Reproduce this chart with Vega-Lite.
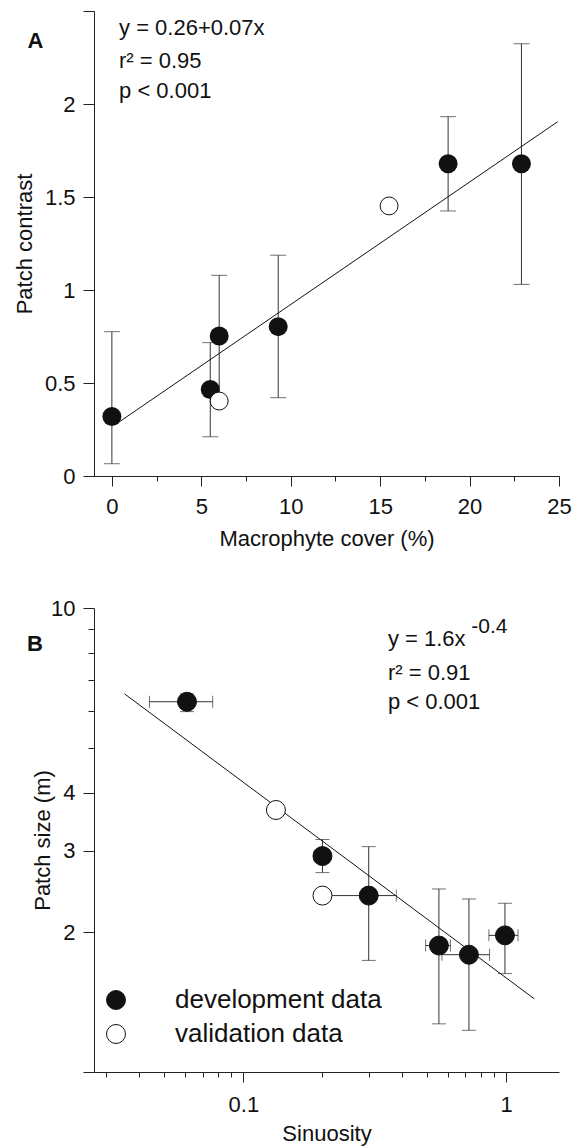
{
  "$schema": "https://vega.github.io/schema/vega-lite/v6.json",
  "padding": {"left": 13, "top": 0, "right": 2, "bottom": 2},
  "spacing": 48,
  "resolve": {"legend": {"fill": "independent"}, "scale": {"fill": "independent"}},
  "datasets": {
    "a_dev": [
      {"x": 0, "y": 0.32, "ylo": 0.066, "yhi": 0.776},
      {"x": 5.5, "y": 0.465, "ylo": 0.211, "yhi": 0.717},
      {"x": 6.0, "y": 0.753, "ylo": 0.425, "yhi": 1.079},
      {"x": 9.3, "y": 0.803, "ylo": 0.421, "yhi": 1.187},
      {"x": 18.8, "y": 1.679, "ylo": 1.425, "yhi": 1.932},
      {"x": 22.9, "y": 1.679, "ylo": 1.03, "yhi": 2.324}
    ],
    "a_val": [
      {"x": 15.5, "y": 1.452},
      {"x": 6.0, "y": 0.403}
    ],
    "a_fit": [
      {"x": 0.26, "y": 0.281},
      {"x": 24.93, "y": 1.905}
    ],
    "a_txt": [
      {"x": 0.4, "y": 2.371, "t": "y = 0.26+0.07x"},
      {"x": 0.4, "y": 2.195, "t": "r² = 0.95"},
      {"x": 0.4, "y": 2.031, "t": "p < 0.001"}
    ],
    "a_lab": [{"x": -4.72, "y": 2.303, "t": "A"}],
    "b_pts": [
      {"x": 0.061, "y": 6.28, "xlo": 0.0439, "xhi": 0.0764, "ylo": 5.98, "yhi": 6.53, "type": "development data"},
      {"x": 0.2, "y": 2.92, "xlo": 0.186, "xhi": 0.2, "ylo": 2.69, "yhi": 3.17, "type": "development data"},
      {"x": 0.3, "y": 2.4, "xlo": 0.2, "xhi": 0.382, "ylo": 1.74, "yhi": 3.06, "type": "development data"},
      {"x": 0.555, "y": 1.873, "xlo": 0.494, "xhi": 0.614, "ylo": 1.27, "yhi": 2.48, "type": "development data"},
      {"x": 0.722, "y": 1.79, "xlo": 0.57, "xhi": 0.865, "ylo": 1.23, "yhi": 2.36, "type": "development data"},
      {"x": 0.99, "y": 1.97, "xlo": 0.86, "xhi": 1.11, "ylo": 1.63, "yhi": 2.31, "type": "development data"},
      {"x": 0.133, "y": 3.67, "type": "validation data"},
      {"x": 0.2, "y": 2.4, "type": "validation data"}
    ],
    "b_fit": [
      {"x": 0.0353, "y": 6.53},
      {"x": 1.28, "y": 1.438}
    ],
    "b_txt": [
      {"x": 0.355, "y": 8.285, "t": "y = 1.6x"},
      {"x": 0.355, "y": 7.01, "t": "r² = 0.91"},
      {"x": 0.355, "y": 6.07, "t": "p < 0.001"}
    ],
    "b_sup": [{"x": 0.737, "y": 8.84, "t": "-0.4"}],
    "b_lab": [{"x": 0.01501, "y": 8.07, "t": "B"}]
  },
  "vconcat": [
    {
      "width": 465,
      "height": 465,
      "layer": [
        {
          "data": {"name": "a_dev"},
          "mark": {"type": "errorbar", "ticks": {"size": 16}, "color": "#333", "thickness": 1},
          "encoding": {
            "x": {"field": "x", "type": "quantitative", "title": "Macrophyte cover (%)", "scale": {"domain": [-1, 25], "nice": false, "zero": false},
              "axis": {"title": "Macrophyte cover (%)", "values": [0, 2.5, 5, 7.5, 10, 12.5, 15, 17.5, 20, 22.5, 25], "format": "~g",
                "labelExpr": "datum.value % 5 === 0 ? datum.label : ''", "tickSize": 10,
                "tickDash": {"condition": {"test": "datum.value % 5 !== 0", "value": [5, 30]}, "value": []},
                "labelPadding": 10, "titlePadding": 11, "labelFlush": false, "labelOverlap": false}},
            "y": {"field": "ylo", "type": "quantitative", "title": "Patch contrast", "scale": {"domain": [0, 2.5], "nice": false, "zero": false},
              "axis": {"title": "Patch contrast", "values": [0, 0.5, 1, 1.5, 2, 2.5], "format": "~g",
                "labelExpr": "datum.value > 2.4 ? '' : datum.label", "tickSize": 11, "labelPadding": 8, "titlePadding": 8, "labelOverlap": false}},
            "y2": {"field": "yhi"}
          }
        },
        {
          "data": {"name": "a_fit"},
          "mark": {"type": "line", "color": "#111", "strokeWidth": 1},
          "encoding": {
            "x": {"field": "x", "type": "quantitative", "title": "Macrophyte cover (%)", "scale": {"domain": [-1, 25], "nice": false, "zero": false}},
            "y": {"field": "y", "type": "quantitative", "title": "Patch contrast", "scale": {"domain": [0, 2.5], "nice": false, "zero": false}}
          }
        },
        {
          "data": {"name": "a_dev"},
          "mark": {"type": "circle", "size": 360, "color": "#111", "opacity": 1},
          "encoding": {
            "x": {"field": "x", "type": "quantitative", "title": "Macrophyte cover (%)", "scale": {"domain": [-1, 25], "nice": false, "zero": false}},
            "y": {"field": "y", "type": "quantitative", "title": "Patch contrast", "scale": {"domain": [0, 2.5], "nice": false, "zero": false}}
          }
        },
        {
          "data": {"name": "a_val"},
          "mark": {"type": "circle", "size": 320, "fill": "white", "stroke": "#111", "strokeWidth": 1, "opacity": 1},
          "encoding": {
            "x": {"field": "x", "type": "quantitative", "title": "Macrophyte cover (%)", "scale": {"domain": [-1, 25], "nice": false, "zero": false}},
            "y": {"field": "y", "type": "quantitative", "title": "Patch contrast", "scale": {"domain": [0, 2.5], "nice": false, "zero": false}}
          }
        },
        {
          "data": {"name": "a_txt"},
          "mark": {"type": "text", "align": "left", "baseline": "alphabetic", "fontSize": 22, "color": "#111"},
          "encoding": {
            "x": {"field": "x", "type": "quantitative", "title": "Macrophyte cover (%)", "scale": {"domain": [-1, 25], "nice": false, "zero": false}},
            "y": {"field": "y", "type": "quantitative", "title": "Patch contrast", "scale": {"domain": [0, 2.5], "nice": false, "zero": false}},
            "text": {"field": "t"}
          }
        },
        {
          "data": {"name": "a_lab"},
          "mark": {"type": "text", "align": "left", "baseline": "alphabetic", "fontSize": 22, "fontWeight": "bold", "color": "#111"},
          "encoding": {
            "x": {"field": "x", "type": "quantitative", "title": "Macrophyte cover (%)", "scale": {"domain": [-1, 25], "nice": false, "zero": false}},
            "y": {"field": "y", "type": "quantitative", "title": "Patch contrast", "scale": {"domain": [0, 2.5], "nice": false, "zero": false}},
            "text": {"field": "t"}
          }
        }
      ]
    },
    {
      "width": 465,
      "height": 464,
      "layer": [
        {
          "data": {"name": "b_pts"},
          "transform": [{"filter": "datum.ylo != null"}],
          "mark": {"type": "errorbar", "ticks": {"size": 14}, "color": "#333", "thickness": 1},
          "encoding": {
            "x": {"field": "x", "type": "quantitative", "title": "Sinuosity", "scale": {"type": "log", "domain": [0.027, 1.59], "nice": false},
              "axis": {"title": "Sinuosity", "values": [0.03, 0.04, 0.05, 0.06, 0.07, 0.08, 0.09, 0.1, 0.2, 0.3, 0.4, 0.5, 0.6, 0.7, 0.8, 0.9, 1], "format": "~g",
                "labelExpr": "datum.value == 0.1 || datum.value == 1 ? datum.label : ''", "tickSize": 10,
                "tickDash": {"condition": {"test": "datum.value != 0.1 && datum.value != 1", "value": [5, 30]}, "value": []},
                "labelPadding": 12, "titlePadding": 8, "labelFlush": false, "labelOverlap": false}},
            "y": {"field": "ylo", "type": "quantitative", "title": "Patch size (m)", "scale": {"type": "log", "domain": [1, 10], "nice": false},
              "axis": {"title": "Patch size (m)", "values": [1, 2, 3, 4, 5, 6, 7, 8, 9, 10], "format": "~g",
                "labelExpr": "datum.value == 2 || datum.value == 3 || datum.value == 4 || datum.value == 10 ? datum.label : ''", "tickSize": 11,
                "tickDash": {"condition": {"test": "datum.value >= 5 && datum.value <= 9", "value": [6, 30]}, "value": []},
                "labelPadding": 8, "titlePadding": -4, "labelOverlap": false}},
            "y2": {"field": "yhi"}
          }
        },
        {
          "data": {"name": "b_pts"},
          "transform": [{"filter": "datum.xlo != null"}],
          "mark": {"type": "errorbar", "ticks": {"size": 12}, "color": "#333", "thickness": 1},
          "encoding": {
            "y": {"field": "y", "type": "quantitative", "title": "Patch size (m)", "scale": {"type": "log", "domain": [1, 10], "nice": false}},
            "x": {"field": "xlo", "type": "quantitative", "title": "Sinuosity", "scale": {"type": "log", "domain": [0.027, 1.59], "nice": false}},
            "x2": {"field": "xhi"}
          }
        },
        {
          "data": {"name": "b_fit"},
          "mark": {"type": "line", "color": "#111", "strokeWidth": 1},
          "encoding": {
            "x": {"field": "x", "type": "quantitative", "title": "Sinuosity", "scale": {"type": "log", "domain": [0.027, 1.59], "nice": false}},
            "y": {"field": "y", "type": "quantitative", "title": "Patch size (m)", "scale": {"type": "log", "domain": [1, 10], "nice": false}}
          }
        },
        {
          "data": {"name": "b_pts"},
          "mark": {"type": "circle", "size": 360, "stroke": "#111", "strokeWidth": 1, "opacity": 1},
          "encoding": {
            "x": {"field": "x", "type": "quantitative", "title": "Sinuosity", "scale": {"type": "log", "domain": [0.027, 1.59], "nice": false}},
            "y": {"field": "y", "type": "quantitative", "title": "Patch size (m)", "scale": {"type": "log", "domain": [1, 10], "nice": false}},
            "fill": {"field": "type", "type": "nominal",
              "scale": {"domain": ["development data", "validation data"], "range": ["#111111", "#ffffff"]},
              "legend": {"orient": "none", "legendX": 9, "legendY": 379, "title": null, "labelFontSize": 26, "labelFont": "Liberation Sans",
                "labelColor": "#111", "labelLimit": 0, "symbolType": "circle", "symbolSize": 360, "symbolStrokeColor": "#111", "symbolStrokeWidth": 1,
                "symbolOpacity": 1, "labelOffset": 46, "rowPadding": 8}}
          }
        },
        {
          "data": {"name": "b_txt"},
          "mark": {"type": "text", "align": "left", "baseline": "alphabetic", "fontSize": 22, "color": "#111"},
          "encoding": {
            "x": {"field": "x", "type": "quantitative", "title": "Sinuosity", "scale": {"type": "log", "domain": [0.027, 1.59], "nice": false}},
            "y": {"field": "y", "type": "quantitative", "title": "Patch size (m)", "scale": {"type": "log", "domain": [1, 10], "nice": false}},
            "text": {"field": "t"}
          }
        },
        {
          "data": {"name": "b_sup"},
          "mark": {"type": "text", "align": "left", "baseline": "alphabetic", "fontSize": 21, "color": "#111"},
          "encoding": {
            "x": {"field": "x", "type": "quantitative", "title": "Sinuosity", "scale": {"type": "log", "domain": [0.027, 1.59], "nice": false}},
            "y": {"field": "y", "type": "quantitative", "title": "Patch size (m)", "scale": {"type": "log", "domain": [1, 10], "nice": false}},
            "text": {"field": "t"}
          }
        },
        {
          "data": {"name": "b_lab"},
          "mark": {"type": "text", "align": "left", "baseline": "alphabetic", "fontSize": 22, "fontWeight": "bold", "color": "#111"},
          "encoding": {
            "x": {"field": "x", "type": "quantitative", "title": "Sinuosity", "scale": {"type": "log", "domain": [0.027, 1.59], "nice": false}},
            "y": {"field": "y", "type": "quantitative", "title": "Patch size (m)", "scale": {"type": "log", "domain": [1, 10], "nice": false}},
            "text": {"field": "t"}
          }
        }
      ]
    }
  ],
  "config": {
    "view": {"stroke": null},
    "font": "Liberation Sans",
    "axis": {"domainColor": "#222", "tickColor": "#222", "labelColor": "#111", "titleColor": "#111",
      "labelFont": "Liberation Sans", "titleFont": "Liberation Sans", "labelFontSize": 22, "titleFontSize": 22,
      "titleFontWeight": "normal", "grid": false, "domainWidth": 1, "tickWidth": 1},
    "text": {"font": "Liberation Sans"}
  }
}
